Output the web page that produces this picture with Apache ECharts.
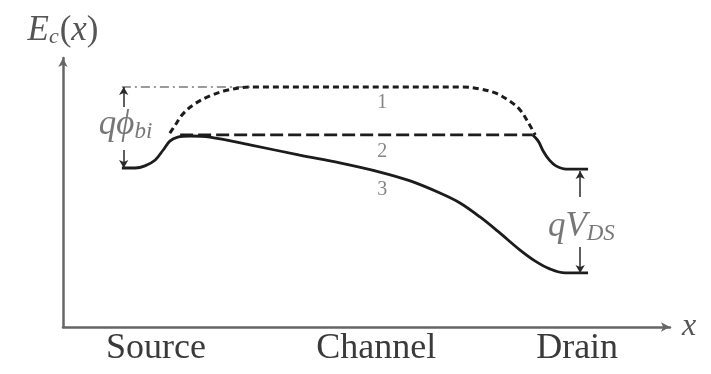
<!DOCTYPE html>
<html>
<head>
<meta charset="utf-8">
<title>Conduction band profile</title>
<script src="https://cdn.jsdelivr.net/npm/echarts@6/dist/echarts.min.js"></script>
<style>
  html, body { margin: 0; padding: 0; background: #ffffff; }
  #chart { width: 711px; height: 374px; }
</style>
</head>
<body>
<div id="chart"></div>
<script>
// Position along the device (0 = origin, 100 = end of x axis) and band energy (arbitrary units)

// Curve 1: zero drain bias, zero gate bias (dotted)
const curve1X = [17.6, 18.5, 19.6, 21.4, 24.2, 27.2, 30.8, 65.9, 68.7, 71.2, 73.6, 75.3, 76.6, 77.8];
const curve1E = [7.21, 7.51, 7.88, 8.25, 8.59, 8.81, 8.92, 8.92, 8.85, 8.70, 8.40, 8.07, 7.62, 7.14];

// Curve 2: gate bias applied, flat barrier (dashed)
const curve2X = [19.3, 77.4];
const curve2E = [7.14, 7.14];

// Drain-side tail shared by curves 1 and 2 (solid)
const tailX = [77.4, 78.3, 79.1, 80.1, 81.2, 82.9, 86.5];
const tailE = [7.14, 6.91, 6.54, 6.21, 5.99, 5.87, 5.87];

// Curve 3: drain bias applied (solid)
const curve3X = [9.7, 11.9, 13.5, 15.2, 16.5, 17.6, 18.9, 20.9, 24.2, 30.8, 39.0, 45.6, 52.2, 57.2, 62.1, 65.4, 68.7, 72.0, 75.3, 77.8, 80.2, 82.7, 86.5];
const curve3E = [5.91, 5.91, 5.99, 6.21, 6.58, 6.91, 7.06, 7.10, 7.06, 6.77, 6.39, 6.10, 5.76, 5.43, 4.98, 4.61, 4.09, 3.49, 2.86, 2.45, 2.16, 2.01, 2.01];

// Reference level of the built-in barrier (dash-dot)
const refX = [9.7, 30.8];
const refE = [8.92, 8.92];

// Curve numbers
const curveNames = ['1', '2', '3'];
const curveNameX = [52.6, 52.6, 52.6];
const curveNameE = [8.33, 6.51, 5.09];

// Region labels on the x axis
const regions = ['Source', 'Channel', 'Drain'];
const regionX = [15.3, 51.6, 84.7];

// Dimension arrows: [x, from, to]
const phiArrows = [[10.0, 8.18, 8.92], [10.0, 6.58, 5.91]];
const vdsArrows = [[85.2, 4.83, 5.80], [85.2, 2.97, 2.01]];
const phiLabel = [10.3, 7.51];
const vdsLabel = [85.4, 3.72];

const zip = (xs, ys) => xs.map((x, i) => [x, ys[i]]);

const ink = '#1c1c1c';
const serif = '"Liberation Serif", "DejaVu Serif", serif';

const arrowLines = phiArrows.concat(vdsArrows).map(a => [
  { coord: [a[0], a[1]], symbol: 'none' },
  { coord: [a[0], a[2]], symbol: 'arrow' }
]);

const chart = echarts.init(document.getElementById('chart'), null, { renderer: 'canvas' });

chart.setOption({
  animation: false,
  backgroundColor: '#ffffff',
  grid: { left: 63, right: 41, top: 58, bottom: 47 },
  xAxis: {
    type: 'value',
    min: 0,
    max: 100,
    name: 'x',
    nameLocation: 'end',
    nameGap: 12,
    nameTextStyle: {
      fontFamily: serif, fontStyle: 'italic', fontSize: 32, color: '#555555',
      verticalAlign: 'middle', padding: [0, 0, 6, 0]
    },
    axisLine: {
      show: true,
      symbol: ['none', 'arrow'],
      symbolSize: [7, 9],
      lineStyle: { color: '#666666', width: 2.5 }
    },
    axisTick: { show: false },
    splitLine: { show: false },
    axisLabel: {
      customValues: regionX,
      formatter: v => regions[regionX.indexOf(v)] || '',
      fontFamily: serif,
      fontSize: 36,
      color: '#3a3a3a',
      margin: 4
    }
  },
  yAxis: {
    type: 'value',
    min: 0,
    max: 10,
    name: '{m|E}{s|c}{p|(}{m|x}{p|)}',
    nameLocation: 'end',
    nameGap: 10,
    nameTextStyle: {
      align: 'center',
      rich: {
        m: { fontFamily: serif, fontStyle: 'italic', fontSize: 35, color: '#555555' },
        s: { fontFamily: serif, fontStyle: 'italic', fontSize: 22, color: '#555555', verticalAlign: 'bottom', padding: [12, 1, 0, 0] },
        p: { fontFamily: serif, fontSize: 35, color: '#555555' }
      }
    },
    axisLine: {
      show: true,
      symbol: ['none', 'arrow'],
      symbolSize: [7, 9],
      lineStyle: { color: '#666666', width: 2.5 }
    },
    axisTick: { show: false },
    axisLabel: { show: false },
    splitLine: { show: false }
  },
  series: [
    {
      name: 'reference',
      type: 'line',
      data: zip(refX, refE),
      showSymbol: false,
      lineStyle: { color: '#9a9a9a', width: 2, type: [9, 4, 2, 4] },
      markLine: {
        silent: true,
        symbolSize: [7, 8],
        label: { show: false },
        lineStyle: { color: '#2a2a2a', width: 1.5, type: 'solid' },
        data: arrowLines
      },
      z: 1
    },
    {
      name: 'curve 1',
      type: 'line',
      data: zip(curve1X, curve1E),
      smooth: 0.35,
      showSymbol: false,
      lineStyle: { color: ink, width: 3, type: [6, 4] }
    },
    {
      name: 'curve 2',
      type: 'line',
      data: zip(curve2X, curve2E),
      showSymbol: false,
      lineStyle: { color: ink, width: 2.8, type: [13, 5] }
    },
    {
      name: 'drain tail',
      type: 'line',
      data: zip(tailX, tailE),
      smooth: 0.35,
      showSymbol: false,
      lineStyle: { color: ink, width: 2.8 }
    },
    {
      name: 'curve 3',
      type: 'line',
      data: zip(curve3X, curve3E),
      smooth: 0.35,
      showSymbol: false,
      lineStyle: { color: ink, width: 2.8 }
    },
    {
      name: 'curve numbers',
      type: 'scatter',
      symbolSize: 0,
      clip: false,
      data: curveNames.map((n, i) => ({ value: [curveNameX[i], curveNameE[i]], name: n })),
      label: {
        show: true,
        position: 'inside',
        formatter: p => p.name,
        fontFamily: serif,
        fontSize: 20,
        color: '#666666'
      }
    },
    {
      name: 'dimension labels',
      type: 'scatter',
      symbolSize: 0,
      clip: false,
      data: [
        { value: phiLabel, name: '{m|qϕ}{s|bi}' },
        { value: vdsLabel, name: '{m|qV}{s|DS}' }
      ],
      label: {
        show: true,
        position: 'inside',
        formatter: p => p.name,
        rich: {
          m: { fontFamily: serif, fontStyle: 'italic', fontSize: 35, color: '#555555' },
          s: { fontFamily: serif, fontStyle: 'italic', fontSize: 23, color: '#555555', verticalAlign: 'bottom', padding: [14, 0, 0, 0] }
        }
      }
    }
  ]
});
</script>
</body>
</html>
